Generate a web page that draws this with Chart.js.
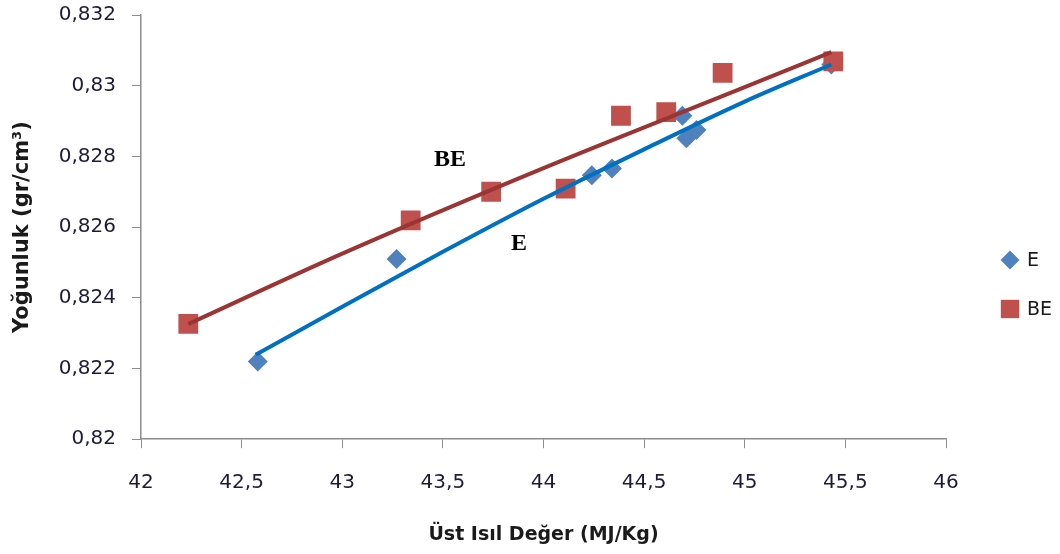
<!DOCTYPE html>
<html>
<head>
<meta charset="utf-8">
<script src="https://cdn.jsdelivr.net/npm/chart.js@4/dist/chart.umd.min.js"></script>
<style>
  html, body { margin: 0; padding: 0; background: #ffffff; }
  #wrap { width: 1060px; height: 554px; }
</style>
</head>
<body>
<div id="wrap"><canvas id="c" width="1060" height="554"></canvas></div>
<script>
// Measured samples: higher heating value (MJ/kg) vs density (g/cm3)
const eHeat      = [42.58, 43.27, 44.24, 44.34, 44.69, 44.71, 44.76, 45.43];
const eDensity   = [0.8222, 0.8251, 0.82747, 0.82766, 0.82915, 0.82851, 0.82875, 0.8306];
const beHeat     = [42.235, 43.34, 43.74, 44.11, 44.385, 44.61, 44.89, 45.44];
const beDensity  = [0.82326, 0.82619, 0.8270, 0.82709, 0.82915, 0.82925, 0.83036, 0.83069];

// Trend curves through each group
const eTrendX    = [42.57, 43.0, 43.5, 44.0, 44.5, 45.0, 45.43];
const eTrendY    = [0.82239, 0.82375, 0.8253, 0.8268, 0.8282, 0.82955, 0.8306];
const beTrendX   = [42.235, 43.0, 44.0, 45.0, 45.43];
const beTrendY   = [0.82326, 0.82525, 0.82767, 0.82996, 0.83095];

// Axis tick labels (decimal comma)
const xTickLabels = ['42', '42,5', '43', '43,5', '44', '44,5', '45', '45,5', '46'];
const yTickLabels = ['0,82', '0,822', '0,824', '0,826', '0,828', '0,83', '0,832'];

const seriesNames = ['E', 'BE'];

const pts = (xs, ys) => xs.map((x, i) => ({ x: x, y: ys[i] }));

const AXIS_GREY = '#8c8c8c';
const TICK_FONT = { family: 'DejaVu Sans', size: 20 };

// Curve labels written next to each trend line
const curveLabels = {
  id: 'curveLabels',
  afterDatasetsDraw(chart) {
    const { ctx, scales } = chart;
    ctx.save();
    ctx.fillStyle = '#000000';
    ctx.font = 'bold 24px "Liberation Serif"';
    ctx.textAlign = 'center';
    ctx.textBaseline = 'middle';
    ctx.fillText('BE', scales.x.getPixelForValue(43.535), scales.y.getPixelForValue(0.8279));
    ctx.fillText('E', scales.x.getPixelForValue(43.878), scales.y.getPixelForValue(0.82554));
    ctx.restore();
  }
};

// Series key to the right of the plot, built from the two marker datasets
const seriesKey = {
  id: 'seriesKey',
  afterDraw(chart) {
    const { ctx } = chart;
    const markX = chart.chartArea.right + 64;
    const rows = [260, 309];
    ctx.save();
    ctx.font = '19px "DejaVu Sans"';
    ctx.textAlign = 'left';
    ctx.textBaseline = 'middle';
    [0, 1].forEach((di, k) => {
      const ds = chart.data.datasets[di];
      ctx.fillStyle = ds.backgroundColor;
      ctx.strokeStyle = ds.borderColor;
      Chart.helpers.drawPoint(ctx, {
        pointStyle: ds.pointStyle,
        radius: ds.pointStyle === 'rect' ? 13 : 9.5,
        borderWidth: 0,
        rotation: 0
      }, markX, rows[k]);
      ctx.fillStyle = '#1a1a1a';
      ctx.fillText(ds.label, markX + 17, rows[k] + 1);
    });
    ctx.restore();
  }
};

new Chart(document.getElementById('c'), {
  type: 'scatter',
  data: {
    datasets: [
      {
        label: seriesNames[0],
        data: pts(eHeat, eDensity),
        pointStyle: 'rectRot',
        pointRadius: 10,
        pointHoverRadius: 10,
        backgroundColor: '#4F81BD',
        borderColor: '#4F81BD',
        borderWidth: 0,
        order: 3
      },
      {
        label: seriesNames[1],
        data: pts(beHeat, beDensity),
        pointStyle: 'rect',
        pointRadius: 14,
        pointHoverRadius: 14,
        backgroundColor: '#C0504D',
        borderColor: '#C0504D',
        borderWidth: 0,
        order: 2
      },
      {
        label: 'E trend',
        data: pts(eTrendX, eTrendY),
        showLine: true,
        tension: 0.4,
        cubicInterpolationMode: 'monotone',
        borderColor: '#0070C0',
        borderWidth: 4,
        pointRadius: 0,
        fill: false,
        order: 1
      },
      {
        label: 'BE trend',
        data: pts(beTrendX, beTrendY),
        showLine: true,
        tension: 0.4,
        cubicInterpolationMode: 'monotone',
        borderColor: '#9B3533',
        borderWidth: 4,
        pointRadius: 0,
        fill: false,
        order: 0
      }
    ]
  },
  options: {
    responsive: false,
    animation: false,
    layout: { padding: { top: 15, right: 114, bottom: 4, left: 0 } },
    plugins: {
      tooltip: { enabled: false },
      legend: { display: false }
    },
    scales: {
      x: {
        type: 'linear',
        min: 42,
        max: 46,
        afterFit: (scale) => { scale.paddingLeft = 0; scale.paddingRight = 0; },
        ticks: {
          stepSize: 0.5,
          padding: 23,
          color: '#1c1c3a',
          font: TICK_FONT,
          callback: (v, i) => xTickLabels[i]
        },
        grid: { drawOnChartArea: false, drawTicks: true, tickLength: 9, color: AXIS_GREY },
        border: { display: true, color: AXIS_GREY, width: 1.5 },
        title: {
          display: true,
          text: 'Üst Isıl Değer (MJ/Kg)',
          color: '#1a1a1a',
          font: { family: 'DejaVu Sans', size: 19, weight: 'bold' },
          padding: { top: 5, bottom: 4 }
        }
      },
      y: {
        type: 'linear',
        min: 0.82,
        max: 0.832,
        afterFit: (scale) => { scale.width = 141; scale.paddingTop = 0; scale.paddingBottom = 0; },
        ticks: {
          stepSize: 0.002,
          padding: 16,
          color: '#1c1c3a',
          font: TICK_FONT,
          callback: (v, i) => yTickLabels[i]
        },
        grid: { drawOnChartArea: false, drawTicks: true, tickLength: 9, color: AXIS_GREY },
        border: { display: true, color: AXIS_GREY, width: 1.5 },
        title: {
          display: true,
          text: 'Yoğunluk (gr/cm³)',
          color: '#1a1a1a',
          font: { family: 'DejaVu Sans', size: 21, weight: 'bold' },
          padding: { top: 10, bottom: 0 }
        }
      }
    }
  },
  plugins: [curveLabels, seriesKey]
});
</script>
</body>
</html>
